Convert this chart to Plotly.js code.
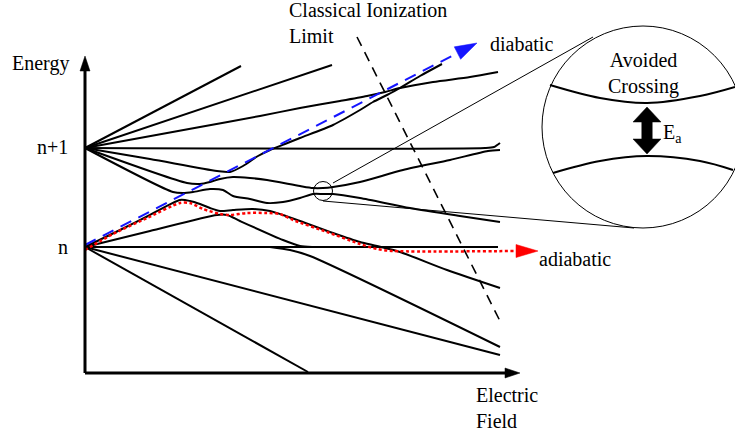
<!DOCTYPE html>
<html><head><meta charset="utf-8">
<script src="https://cdn.plot.ly/plotly-3.0.1.min.js"></script>
<style>html,body{margin:0;padding:0;background:#fff}#chart{width:735px;height:431px}</style>
</head><body><div id="chart"></div>
<script>
// Schematic Stark map. Diagram units: x = electric field, y = energy (drawn with a reversed axis).
// Levels fanning out from n+1
const fan1X = [85, 241], fan1Y = [148, 66];
const fan2X = [85, 332], fan2Y = [148, 65];
const fan3X = [85, 200, 260, 300, 340, 367, 385, 400, 433, 470, 498];
const fan3Y = [148, 127, 116, 108, 101, 96, 92, 88, 82, 77, 72];
const levelN1X = [85, 485, 494, 500], levelN1Y = [148, 148, 147, 143];
const riseX = [85, 150, 217, 230, 243, 258, 270, 285, 300, 333, 360, 373, 387, 400, 420, 442];
const riseY = [148, 159, 171, 172, 166, 156, 150, 144, 138, 125, 110, 102, 95, 88, 76, 64];
const lineBX = [85, 187, 200, 210, 220, 233, 250, 267, 300, 313, 323, 333, 360, 403, 450, 488, 500];
const lineBY = [148, 183, 184, 182, 179, 177, 178, 180, 186, 188, 188, 187, 182, 170, 160, 151, 150];
const lineCX = [85, 173, 183, 193, 210, 223, 233, 250, 267, 283, 300, 313, 323, 333, 360, 410, 460, 500];
const lineCY = [148, 192, 193, 192, 189, 190, 196, 199, 203, 202, 198, 194, 194, 194, 198, 208, 216, 222];
// Levels fanning out from n
const linePX = [85, 120, 150, 180, 190, 200, 210, 220, 233, 253, 270, 283, 300, 333, 360, 377, 400, 447, 500];
const linePY = [247, 230, 215, 200, 201, 204, 208, 211, 210, 209, 211, 215, 221, 233, 242, 246, 252, 270, 288];
const lineQX = [85, 150, 217, 227, 240, 283, 300, 312];
const lineQY = [247, 231, 215, 215, 221, 240, 246, 247];
const levelNX = [85, 498], levelNY = [247, 247];
const bendNX = [270, 290, 310, 500], bendNY = [247, 250, 256, 347];
const lowAX = [85, 500], lowAY = [247, 355];
const lowBX = [85, 308], lowBY = [247, 372];
// Paths
const adiabaticX = [85, 113, 147, 180, 190, 203, 220, 230, 247, 267, 280, 293, 327, 360, 377, 393, 538];
const adiabaticY = [250, 234, 218, 203, 203, 209, 214, 215, 213, 213, 214, 220, 232, 244, 249, 251, 251];
const diabaticX = [85, 477], diabaticY = [245, 43];
const ionLimitX = [357, 502], ionLimitY = [37, 325];
// Axes
const energyAxisX = [85, 85], energyAxisY = [373, 56];
const fieldAxisX = [85, 520], fieldAxisY = [373, 373];
// Magnified avoided crossing
const zoomSmall = {cx: 323, cy: 191, r: 9.5};
const zoomBig = {cx: 643, cy: 127, r: 101};
const zoomLine1X = [333, 593], zoomLine1Y = [183, 37];
const zoomLine2X = [323, 634], zoomLine2Y = [201, 228];
const insetUpperX = [550, 600, 647, 700, 735], insetUpperY = [85, 98, 103, 96, 87];
const insetLowerX = [553, 600, 647, 700, 733], insetLowerY = [173, 161, 156, 161, 170];
const gapArrowX = [647, 647], gapArrowY = [107, 154];

const FONT = "'Liberation Serif', 'DejaVu Serif', serif";
const traces = [];
function curve(x, y, opts) {
  traces.push(Object.assign({x: x, y: y, mode: 'lines', hoverinfo: 'skip',
    line: {color: '#000', width: 2, shape: 'spline', smoothing: 0.7}}, opts || {}));
}
function headAt(x0, y0, x1, y1, len, wid, color) {
  const dx = x1 - x0, dy = y1 - y0, L = Math.hypot(dx, dy);
  const ux = dx / L, uy = dy / L, bx = x1 - ux * len, by = y1 - uy * len;
  const px = -uy, py = ux;
  traces.push({x: [x1, bx + px * wid / 2, bx - px * wid / 2, x1],
    y: [y1, by + py * wid / 2, by - py * wid / 2, y1],
    mode: 'lines', fill: 'toself', fillcolor: color, hoverinfo: 'skip',
    line: {color: color, width: 0.5}});
  return [bx + ux * 1, by + uy * 1];
}
function arrowLine(x, y, len, wid, color, lineOpts) {
  const n = x.length;
  const base = headAt(x[n - 2], y[n - 2], x[n - 1], y[n - 1], len, wid, color);
  const xs = x.slice(0, n - 1).concat([base[0]]);
  const ys = y.slice(0, n - 1).concat([base[1]]);
  curve(xs, ys, {line: Object.assign({color: color, width: 2}, lineOpts)});
}

// Stark levels
curve(fan1X, fan1Y); curve(fan2X, fan2Y); curve(fan3X, fan3Y);
curve(levelN1X, levelN1Y); curve(riseX, riseY); curve(lineBX, lineBY); curve(lineCX, lineCY);
curve(linePX, linePY); curve(lineQX, lineQY); curve(levelNX, levelNY); curve(bendNX, bendNY);
curve(lowAX, lowAY); curve(lowBX, lowBY);
// Ionization limit
curve(ionLimitX, ionLimitY, {line: {color: '#000', width: 1.6, dash: '10px,7px'}});
// Diabatic & adiabatic
arrowLine(diabaticX, diabaticY, 22, 14, '#1515ff', {dash: '12px,8px', width: 2});
arrowLine(adiabaticX, adiabaticY, 22, 13, '#ff0000', {dash: '3px,2.5px', width: 2.5, shape: 'spline', smoothing: 0.7});
// Axes
arrowLine(energyAxisX, energyAxisY, 15, 10, '#000', {width: 3});
arrowLine(fieldAxisX, fieldAxisY, 15, 10, '#000', {width: 3});
// Zoom lines and inset
curve(zoomLine1X, zoomLine1Y, {line: {color: '#000', width: 1}});
curve(zoomLine2X, zoomLine2Y, {line: {color: '#000', width: 1}});
curve(insetUpperX, insetUpperY, {line: {color: '#000', width: 2, shape: 'spline'}});
curve(insetLowerX, insetLowerY, {line: {color: '#000', width: 2, shape: 'spline'}});
// double arrow for E_a
const mid = (gapArrowY[0] + gapArrowY[1]) / 2;
headAt(gapArrowX[0], mid, gapArrowX[0], gapArrowY[0], 15, 28, '#000');
headAt(gapArrowX[1], mid, gapArrowX[1], gapArrowY[1], 15, 28, '#000');
curve([gapArrowX[0], gapArrowX[1]], [gapArrowY[0] + 13, gapArrowY[1] - 13], {line: {color: '#000', width: 11}});

function circ(c, w) {
  return {type: 'circle', xref: 'x', yref: 'y', x0: c.cx - c.r, x1: c.cx + c.r,
    y0: c.cy - c.r, y1: c.cy + c.r, line: {color: '#000', width: w}, fillcolor: 'rgba(0,0,0,0)'};
}
function label(text, x, y, xanchor, align) {
  return {text: text, x: x, y: y, xref: 'x', yref: 'y', showarrow: false,
    xanchor: xanchor, yanchor: 'middle', align: align || xanchor,
    font: {family: FONT, size: 20, color: '#000'}};
}
const layout = {
  width: 735, height: 431, margin: {l: 0, r: 0, t: 0, b: 0},
  paper_bgcolor: '#fff', plot_bgcolor: '#fff', showlegend: false,
  font: {family: FONT, size: 20, color: '#000'},
  xaxis: {range: [0, 735], visible: false, fixedrange: true},
  yaxis: {range: [431, 0], visible: false, fixedrange: true},
  shapes: [circ(zoomSmall, 1), circ(zoomBig, 1)],
  annotations: [
    label('Energy', 10, 63, 'left'),
    label('n+1', 70, 147, 'right'),
    label('n', 70, 247, 'right'),
    label('Classical Ionization<br>Limit', 287, 23, 'left'),
    label('diabatic', 488, 44, 'left'),
    label('adiabatic', 537, 259, 'left'),
    label('Electric<br>Field', 474, 408, 'left'),
    label('Avoided<br>Crossing', 643, 73, 'center'),
    label('E<sub>a</sub>', 661, 133, 'left')
  ]
};
Plotly.newPlot('chart', traces, layout, {staticPlot: true, displayModeBar: false});
</script></body></html>
